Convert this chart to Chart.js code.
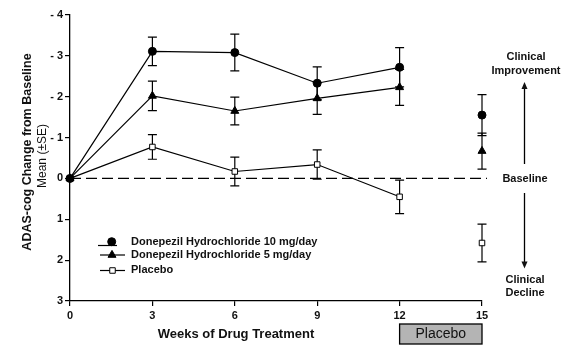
<!DOCTYPE html>
<html>
<head>
<meta charset="utf-8">
<script src="https://cdn.jsdelivr.net/npm/chart.js@4/dist/chart.umd.min.js"></script>
<style>
html,body{margin:0;padding:0;background:#fff;}
#wrap{width:569px;height:357px;position:relative;}
</style>
</head>
<body>
<div id="wrap"><canvas id="c" width="569" height="357"></canvas></div>
<script>
// ---- data ----
const weeks = [0, 3, 6, 9, 12, 15];
const seriesNames = ["Donepezil Hydrochloride 10 mg/day", "Donepezil Hydrochloride 5 mg/day", "Placebo"];
const dose10 = [0, -3.11, -3.08, -2.33, -2.72, -1.55];
const dose10SE = [0, 0.35, 0.45, 0.40, 0.48, 0.50];
const dose5 = [0, -2.02, -1.65, -1.96, -2.23, -0.67];
const dose5SE = [0, 0.36, 0.34, 0.39, 0.44, 0.44];
const placebo = [0, -0.77, -0.17, -0.34, 0.45, 1.58];
const placeboSE = [0, 0.30, 0.35, 0.36, 0.41, 0.46];
const yTicks = [-4, -3, -2, -1, 0, 1, 2, 3];
const xTicks = [0, 3, 6, 9, 12, 15];

const FONT = "'Liberation Sans', Arial, Helvetica, sans-serif";
const INK = '#111';

function pts(vals){ return weeks.map((w,i)=>({x:w, y:vals[i]})); }
const seg = { borderColor: ctx => ctx.p1DataIndex === 5 ? 'rgba(0,0,0,0)' : '#000' };

const styles = [
  {pointStyle:'circle', radius:4, bg:'#000'},
  {pointStyle:'triangle', radius:4.6, bg:'#000'},
  {pointStyle:'rect', radius:3.9, bg:'#fff'}
];
const allVals = [dose10, dose5, placebo];
const allSE = [dose10SE, dose5SE, placeboSE];

const datasets = allVals.map((v,i)=>({
  label: seriesNames[i],
  data: pts(v),
  borderColor:'#000',
  borderWidth:1.2,
  pointStyle: styles[i].pointStyle,
  pointRadius: styles[i].radius,
  pointHoverRadius: styles[i].radius,
  pointBackgroundColor: styles[i].bg,
  pointBorderColor:'#000',
  pointBorderWidth:1,
  segment: seg,
  clip: false,
  tension:0
}));

const decor = {
  id:'decor',
  beforeDatasetsDraw(chart){
    const {ctx, scales:{x,y}} = chart;
    ctx.save();
    // dashed baseline
    ctx.strokeStyle='#000'; ctx.lineWidth=1.2; ctx.setLineDash([11,5]);
    ctx.beginPath();
    ctx.moveTo(x.getPixelForValue(0), y.getPixelForValue(0));
    ctx.lineTo(x.getPixelForValue(15)+5, y.getPixelForValue(0));
    ctx.stroke();
    ctx.setLineDash([]);
    // error bars
    ctx.lineWidth=1.2;
    allVals.forEach((vals,si)=>{
      vals.forEach((v,i)=>{
        const se = allSE[si][i];
        if(!se) return;
        const px = x.getPixelForValue(weeks[i]);
        const y1 = y.getPixelForValue(v-se), y2 = y.getPixelForValue(v+se);
        ctx.beginPath();
        ctx.moveTo(px,y1); ctx.lineTo(px,y2);
        ctx.moveTo(px-4.5,y1); ctx.lineTo(px+4.5,y1);
        ctx.moveTo(px-4.5,y2); ctx.lineTo(px+4.5,y2);
        ctx.stroke();
      });
    });
    ctx.restore();
  },
  afterDraw(chart){
    const {ctx, scales:{x,y}} = chart;
    ctx.save();
    ctx.fillStyle=INK;
    // y title
    ctx.save();
    ctx.translate(28,152); ctx.rotate(-Math.PI/2);
    ctx.textAlign='center'; ctx.textBaseline='middle';
    ctx.font='bold 12.5px '+FONT;
    ctx.fillText('ADAS-cog Change from Baseline',0,0);
    ctx.restore();
    ctx.save();
    ctx.translate(43,156); ctx.rotate(-Math.PI/2);
    ctx.textAlign='center'; ctx.textBaseline='middle';
    ctx.font='12px '+FONT;
    ctx.fillText('Mean (\u00B1SE)',0,0);
    ctx.restore();
    // x title
    ctx.textAlign='center'; ctx.textBaseline='middle';
    ctx.font='bold 13px '+FONT;
    ctx.fillText('Weeks of Drug Treatment',236,334);
    // Placebo box
    const bx1 = x.getPixelForValue(12), bx2 = x.getPixelForValue(15);
    ctx.fillStyle='#b4b4b4';
    ctx.fillRect(bx1,324,bx2-bx1,20);
    ctx.strokeStyle='#000'; ctx.lineWidth=1.3;
    ctx.strokeRect(bx1,324,bx2-bx1,20);
    ctx.fillStyle=INK;
    ctx.font='14px '+FONT;
    ctx.fillText('Placebo',(bx1+bx2)/2,334.5);
    // right annotations
    ctx.font='bold 11px '+FONT;
    ctx.fillText('Clinical',526,57);
    ctx.fillText('Improvement',526,71);
    ctx.fillText('Baseline',525,178.5);
    ctx.fillText('Clinical',525,280);
    ctx.fillText('Decline',525,293);
    ctx.strokeStyle='#000'; ctx.lineWidth=1.3;
    ctx.beginPath(); ctx.moveTo(524.5,164); ctx.lineTo(524.5,86); ctx.stroke();
    ctx.beginPath(); ctx.moveTo(524.5,82); ctx.lineTo(521.5,89); ctx.lineTo(527.5,89); ctx.closePath(); ctx.fill();
    ctx.beginPath(); ctx.moveTo(524.5,193); ctx.lineTo(524.5,264); ctx.stroke();
    ctx.beginPath(); ctx.moveTo(524.5,268.5); ctx.lineTo(521.5,261.5); ctx.lineTo(527.5,261.5); ctx.closePath(); ctx.fill();
    // legend
    const rows = [
      {ly:245.5, my:241.7, mx:111.7, lx1:98, lx2:117, ty:241.5},
      {ly:255, my:255, mx:112, lx1:100, lx2:125, ty:255},
      {ly:270.5, my:270.5, mx:112.5, lx1:100, lx2:125, ty:269.5}
    ];
    ctx.textAlign='left';
    rows.forEach((r,i)=>{
      ctx.strokeStyle='#000'; ctx.lineWidth=1.2;
      ctx.beginPath(); ctx.moveTo(r.lx1,r.ly); ctx.lineTo(r.lx2,r.ly); ctx.stroke();
      ctx.fillStyle=styles[i].bg; ctx.strokeStyle='#000'; ctx.lineWidth=1;
      Chart.helpers.drawPoint(ctx,{pointStyle:styles[i].pointStyle, radius:styles[i].radius, rotation:0, borderWidth:1}, r.mx, r.my);
      ctx.fillStyle=INK;
      ctx.font='bold 11px '+FONT;
      ctx.fillText(seriesNames[i],131,r.ty);
    });
    ctx.restore();
  }
};

new Chart(document.getElementById('c'), {
  type:'line',
  data:{ datasets },
  options:{
    responsive:false,
    animation:false,
    events:[],
    layout:{ padding:{ top:15, right:87, bottom:0, left:0 } },
    plugins:{ legend:{display:false}, tooltip:{enabled:false} },
    scales:{
      x:{
        type:'linear', min:0, max:15,
        afterBuildTicks(s){ s.ticks = xTicks.map(v=>({value:v})); },
        afterFit(s){ s.height = 56; },
        grid:{ drawOnChartArea:false, drawTicks:true, tickLength:5, color:'#000', lineWidth:1.2 },
        border:{ display:true, color:'#000', width:1.3 },
        ticks:{ color:INK, padding:3, font:{family:FONT, size:11, weight:'bold'}, maxRotation:0 }
      },
      y:{
        type:'linear', min:-4, max:3, reverse:true,
        afterBuildTicks(s){ s.ticks = yTicks.map(v=>({value:v})); },
        afterFit(s){ s.width = 70; },
        grid:{ drawOnChartArea:false, drawTicks:true, tickLength:5, color:'#000', lineWidth:1.2 },
        border:{ display:true, color:'#000', width:1.3 },
        ticks:{ color:INK, padding:2, font:{family:FONT, size:11, weight:'bold'},
          callback:v => v < 0 ? '- ' + Math.abs(v) : String(v) }
      }
    }
  },
  plugins:[decor]
});
</script>
</body>
</html>
